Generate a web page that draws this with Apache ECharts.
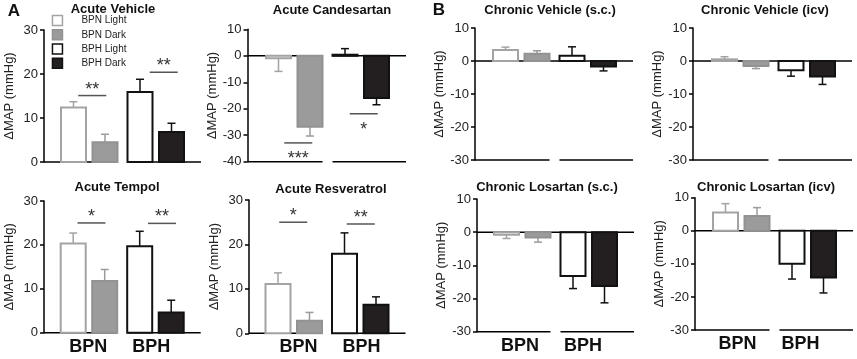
<!DOCTYPE html>
<html>
<head>
<meta charset="utf-8">
<script src="https://cdn.jsdelivr.net/npm/echarts@6/dist/echarts.min.js"></script>
<style>
  html, body { margin: 0; padding: 0; background: #fff; }
  #main { width: 857px; height: 359px; }
</style>
</head>
<body>
<div id="main"></div>
<script>
// groups and strains
const groups = ['BPN Light', 'BPN Dark', 'BPH Light', 'BPH Dark'];
const strains = ['BPN', 'BPH'];
const panelTitles = ['Acute Vehicle', 'Acute Candesartan', 'Chronic Vehicle (s.c.)', 'Chronic Vehicle (icv)',
  'Acute Tempol', 'Acute Resveratrol', 'Chronic Losartan (s.c.)', 'Chronic Losartan (icv)'];

// ΔMAP mean and SEM (mmHg), order = groups
const acuteVehicleMean = [12.4, 4.5, 15.9, 6.8];
const acuteVehicleSem = [1.3, 1.8, 2.9, 2.0];
const acuteCandesartanMean = [-0.9, -26.8, 0.4, -15.9];
const acuteCandesartanSem = [5.0, 3.5, 2.3, 2.6];
const chronicVehicleScMean = [3.3, 2.2, 1.6, -1.7];
const chronicVehicleScSem = [0.9, 0.9, 2.7, 1.3];
const chronicVehicleIcvMean = [0.5, -1.5, -2.8, -4.7];
const chronicVehicleIcvSem = [0.8, 0.8, 1.8, 2.4];
const acuteTempolMean = [20.3, 11.8, 19.7, 4.6];
const acuteTempolSem = [2.4, 2.6, 3.4, 2.8];
const acuteResveratrolMean = [11.1, 2.8, 17.9, 6.4];
const acuteResveratrolSem = [2.5, 1.9, 4.7, 1.8];
const chronicLosartanScMean = [-0.8, -1.6, -13.2, -16.2];
const chronicLosartanScSem = [1.1, 1.4, 3.8, 5.1];
const chronicLosartanIcvMean = [5.5, 4.5, -10.0, -14.1];
const chronicLosartanIcvSem = [2.7, 2.5, 4.6, 4.7];

// significance (BPN pair, BPH pair) and the level of the bar
const acuteVehicleSig = ['**', '**'];
const acuteVehicleSigAt = [15.1, 20.4];
const acuteCandesartanSig = ['***', '*'];
const acuteCandesartanSigAt = [-32.9, -21.9];
const acuteTempolSig = ['*', '**'];
const acuteTempolSigAt = [25.0, 24.9];
const acuteResveratrolSig = ['*', '**'];
const acuteResveratrolSigAt = [25.0, 24.6];

// y ranges
const acuteRange = [0, 30];
const candesartanRange = [-40, 10];
const chronicRange = [-30, 10];

const FONT = '"Liberation Sans", Arial, sans-serif';
const BAR_W = 25;
const STEP = 31.5;
const GAP = 1.75;

const groupStyle = [
  { fill: '#ffffff', stroke: '#a3a3a3', err: '#a3a3a3' },
  { fill: '#9b9b9b', stroke: '#929292', err: '#9b9b9b' },
  { fill: '#ffffff', stroke: '#111111', err: '#111111' },
  { fill: '#231f20', stroke: '#111111', err: '#111111' }
];

const panels = [
  { mean: acuteVehicleMean, sem: acuteVehicleSem, sig: acuteVehicleSig, sigAt: acuteVehicleSigAt, range: acuteRange,
    axisX: 44, firstBar: 73.5, top: 30, bottom: 162, titleX: 113, titleY: 9, labels: false, sigShift: [3, 8] },
  { mean: acuteCandesartanMean, sem: acuteCandesartanSem, sig: acuteCandesartanSig, sigAt: acuteCandesartanSigAt, range: candesartanRange,
    axisX: 247.5, firstBar: 278.5, top: 29.3, bottom: 161.7, titleX: 332, titleY: 10, labels: false, sigShift: [4, 3], zeroGap: true },
  { mean: chronicVehicleScMean, sem: chronicVehicleScSem, range: chronicRange,
    axisX: 475, firstBar: 505.5, top: 28, bottom: 160, titleX: 550, titleY: 10, labels: false },
  { mean: chronicVehicleIcvMean, sem: chronicVehicleIcvSem, range: chronicRange,
    axisX: 693, firstBar: 724.5, top: 28, bottom: 160, titleX: 765, titleY: 10, labels: false },
  { mean: acuteTempolMean, sem: acuteTempolSem, sig: acuteTempolSig, sigAt: acuteTempolSigAt, range: acuteRange,
    axisX: 44, firstBar: 73.2, top: 201, bottom: 332.7, titleX: 117, titleY: 187, labels: true, labelShift: -2.5, sigShift: [2.5, 6.5] },
  { mean: acuteResveratrolMean, sem: acuteResveratrolSem, sig: acuteResveratrolSig, sigAt: acuteResveratrolSigAt, range: acuteRange,
    axisX: 249, firstBar: 278, top: 200, bottom: 333.3, titleX: 331, titleY: 189, labels: true, labelShift: 3, sigShift: [-0.5, 0.5] },
  { mean: chronicLosartanScMean, sem: chronicLosartanScSem, range: chronicRange,
    axisX: 477, firstBar: 506.5, top: 199, bottom: 331.7, titleX: 547, titleY: 187, labels: true, labelShift: -4 },
  { mean: chronicLosartanIcvMean, sem: chronicLosartanIcvSem, range: chronicRange,
    axisX: 695, firstBar: 725.5, top: 197.7, bottom: 330, titleX: 766, titleY: 187, labels: true, labelShift: -5.5 }
];

function barX(api, i) {
  return api.coord([i, 0])[0] + (i < 2 ? -GAP : GAP);
}

function renderBar(style) {
  return function (params, api) {
    const i = api.value(0), m = api.value(1), s = api.value(2);
    const x = barX(api, i);
    const y0 = api.coord([i, 0])[1];
    const y1 = api.coord([i, m])[1];
    const y2 = api.coord([i, m + (m >= 0 ? s : -s)])[1];
    return {
      type: 'group',
      children: [
        { type: 'line', shape: { x1: x, y1: y1, x2: x, y2: y2 }, style: { stroke: style.err, lineWidth: 1.5 } },
        { type: 'line', shape: { x1: x - 4, y1: y2, x2: x + 4, y2: y2 }, style: { stroke: style.err, lineWidth: 1.5 } },
        { type: 'rect', shape: { x: x - BAR_W / 2, y: Math.min(y0, y1), width: BAR_W, height: Math.abs(y1 - y0) },
          style: { fill: style.fill, stroke: style.stroke, lineWidth: 2 } }
      ]
    };
  };
}

function renderFrame(p) {
  return function (params, api) {
    const yb = api.coord([0, p.range[0]])[1];
    const yz = api.coord([0, 0])[1];
    const ax = params.coordSys.x - (p.firstBar - 14 - p.axisX);
    const leftEnd = barX(api, 1) + BAR_W / 2;
    const rightStart = barX(api, 2) - BAR_W / 2;
    const rightEnd = barX(api, 3) + BAR_W / 2 + 17;
    const ls = { stroke: '#000', lineWidth: 1.5 };
    const kids = [
      { type: 'line', shape: { x1: ax, y1: yb, x2: leftEnd, y2: yb }, style: ls },
      { type: 'line', shape: { x1: rightStart, y1: yb, x2: rightEnd, y2: yb }, style: ls }
    ];
    if (p.range[0] < 0) {
      if (p.zeroGap) {
        kids.push({ type: 'line', shape: { x1: ax, y1: yz, x2: leftEnd, y2: yz }, style: ls });
        kids.push({ type: 'line', shape: { x1: rightStart, y1: yz, x2: rightEnd, y2: yz }, style: ls });
      } else {
        kids.push({ type: 'line', shape: { x1: ax, y1: yz, x2: rightEnd, y2: yz }, style: ls });
      }
    }
    return { type: 'group', children: kids };
  };
}

function renderSig(p) {
  return function (params, api) {
    const i = api.value(0), v = api.value(1);
    const mid = (barX(api, i) + barX(api, i + 1)) / 2 + p.sigShift[params.dataIndex];
    const y = api.coord([i, v])[1];
    const ty = v >= 0 ? y - 6 : y + 16;
    return {
      type: 'group',
      children: [
        { type: 'line', shape: { x1: mid - 14, y1: y, x2: mid + 14, y2: y }, style: { stroke: '#555', lineWidth: 1.5 } },
        { type: 'text', x: mid, y: ty, style: { text: p.sig[params.dataIndex], fill: '#333', font: '18px ' + FONT,
          textAlign: 'center', textVerticalAlign: 'middle' } }
      ]
    };
  };
}

const option = {
  animation: false,
  backgroundColor: '#fff',
  textStyle: { fontFamily: FONT },
  legend: {
    orient: 'vertical', left: 51.7, top: 14.7, padding: 0, selectedMode: false,
    icon: 'rect', itemWidth: 10, itemHeight: 10, itemGap: 2.8,
    textStyle: { fontSize: 10, color: '#222', padding: [0, 0, 0, 14] },
    data: groups.map((g, k) => ({
      name: g,
      itemStyle: { color: groupStyle[k].fill, borderColor: groupStyle[k].stroke, borderWidth: 1.5 }
    }))
  },
  grid: [], xAxis: [], yAxis: [], series: [],
  graphic: [
    { type: 'text', x: 14, y: 11, style: { text: 'A', font: 'bold 17px ' + FONT, fill: '#111', textAlign: 'center', textVerticalAlign: 'middle' } },
    { type: 'text', x: 439, y: 10, style: { text: 'B', font: 'bold 17px ' + FONT, fill: '#111', textAlign: 'center', textVerticalAlign: 'middle' } }
  ]
};

panels.forEach((p, k) => {
  const left = p.firstBar - 14;
  option.grid.push({ left: left, top: p.top, width: STEP * 4, height: p.bottom - p.top });
  option.xAxis.push({ type: 'category', gridIndex: k, data: groups, show: false, position: 'top' });
  const sh = p.labelShift || 0;
  option.xAxis.push({
    type: 'category', gridIndex: k, data: strains, position: 'bottom',
    axisLine: { show: false }, axisTick: { show: false }, splitLine: { show: false },
    axisLabel: { show: p.labels, fontSize: 18, fontWeight: 'bold', color: '#111', margin: 5,
      padding: [0, sh < 0 ? -2 * sh : 0, 0, sh > 0 ? 2 * sh : 0] }
  });
  option.yAxis.push({
    type: 'value', gridIndex: k, min: p.range[0], max: p.range[1], interval: 10,
    offset: left - p.axisX,
    name: 'ΔMAP (mmHg)', nameLocation: 'middle', nameGap: 28,
    nameTextStyle: { fontSize: 13, color: '#222' },
    axisLine: { show: true, onZero: false, lineStyle: { color: '#000', width: 1.5 } },
    axisTick: { show: true, length: 4, lineStyle: { color: '#000', width: 1.5 } },
    axisLabel: { fontSize: 13, color: '#222', margin: 6 },
    splitLine: { show: false }
  });
  option.series.push({
    type: 'custom', xAxisIndex: 2 * k, yAxisIndex: k, silent: true,
    renderItem: renderFrame(p), data: [[0, 0]]
  });
  groups.forEach((g, i) => {
    option.series.push({
      type: 'custom', name: g, xAxisIndex: 2 * k, yAxisIndex: k, silent: true,
      itemStyle: { color: groupStyle[i].fill, borderColor: groupStyle[i].stroke },
      renderItem: renderBar(groupStyle[i]),
      data: [[i, p.mean[i], p.sem[i]]]
    });
  });
  if (p.sig) {
    option.series.push({
      type: 'custom', xAxisIndex: 2 * k, yAxisIndex: k, silent: true,
      renderItem: renderSig(p),
      data: p.sigAt.map((v, j) => [2 * j, v])
    });
  }
  option.graphic.push({
    type: 'text', x: p.titleX, y: p.titleY,
    style: { text: panelTitles[k], font: 'bold 13px ' + FONT, fill: '#111', textAlign: 'center', textVerticalAlign: 'middle' }
  });
});

const chart = echarts.init(document.getElementById('main'));
chart.setOption(option);
</script>
</body>
</html>
